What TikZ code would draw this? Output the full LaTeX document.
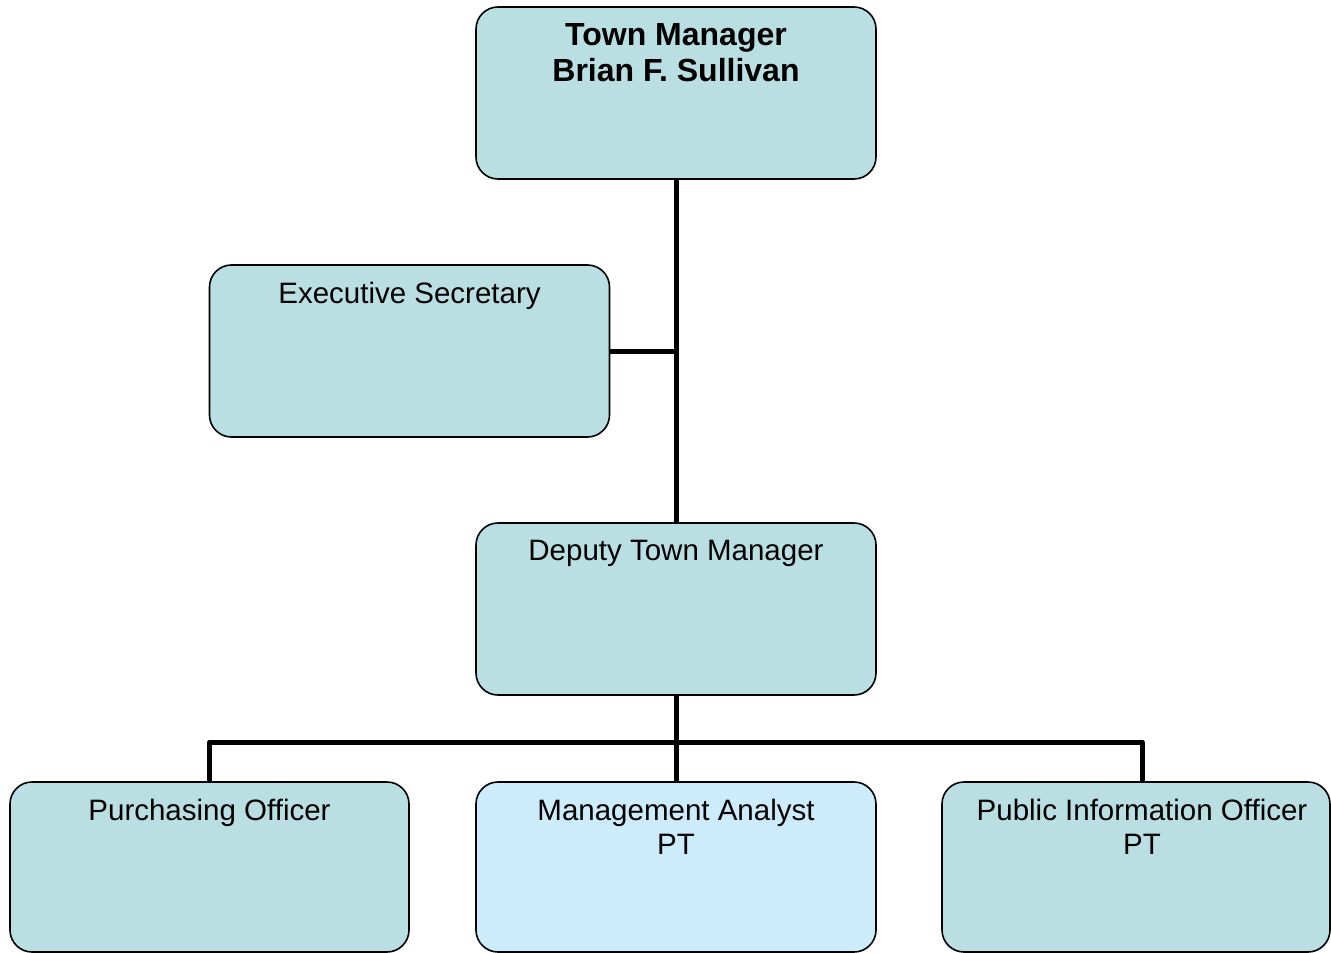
\documentclass[tikz,border=0pt]{standalone}
\usepackage{fontspec}
\setmainfont{Liberation Sans}
\definecolor{boxteal}{RGB}{185,223,226}
\definecolor{boxblue}{RGB}{204,235,251}
\tikzset{
	orgbox/.style={draw=black,line width=1.6pt,rounded corners=22pt,fill=boxteal,minimum width=400pt,minimum height=172pt,inner sep=0pt},
	boxtext/.style={anchor=north,inner sep=0pt,yshift=-17.5pt,align=center,font=\fontsize{29.5}{34}\selectfont},
	headtext/.style={boxtext,font=\fontsize{32}{36}\selectfont\bfseries},
	conn/.style={line width=5pt}
}
\begin{document}
\begin{tikzpicture}[x=1pt,y=-1pt,line join=round]
			\useasboundingbox (0,0) rectangle (1331,953);
			\node[orgbox,label={[headtext]north:Town Manager\\Brian F. Sullivan}] (tm) at (676,93) {};
			\node[orgbox,label={[boxtext]north:Executive Secretary}] (es) at (409.5,351) {};
			\node[orgbox,label={[boxtext]north:Deputy Town Manager}] (dtm) at (676,609) {};
			\node[orgbox,minimum height=170pt,minimum width=399pt,label={[boxtext]north:Purchasing Officer}] (po) at (209.5,867) {};
			\node[orgbox,minimum height=170pt,fill=boxblue,label={[boxtext]north:Management Analyst\\PT}] (ma) at (676,867) {};
			\node[orgbox,minimum height=170pt,minimum width=388pt,label={[boxtext,xshift=6pt]north:Public Information Officer\\PT}] (pio) at (1136,867) {};
			\coordinate (bus) at (676,742);
			\coordinate (pioin) at ([xshift=6pt]pio.north);
			\draw[conn] (tm.south)--(dtm.north) (es.east)--(es.east-|tm.south);
			\draw[conn] (dtm.south)--(ma.north) (po.north)|-(bus)-|(pioin);
		\end{tikzpicture}
\end{document}
